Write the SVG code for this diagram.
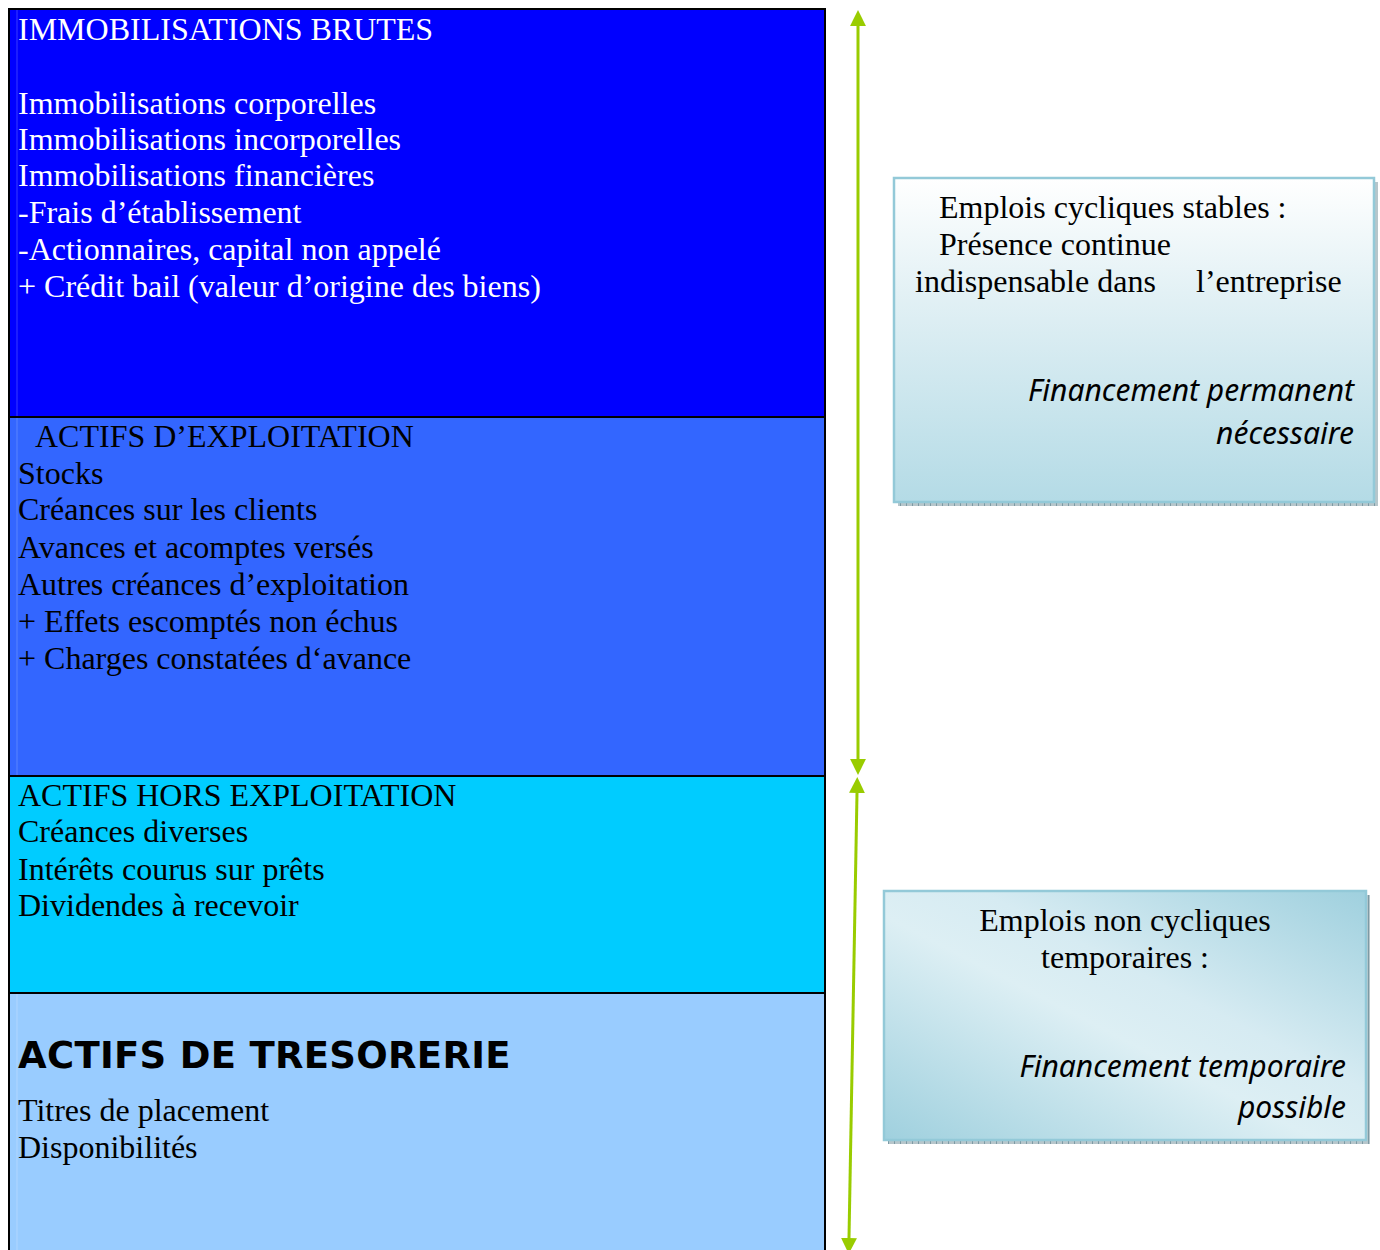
<svg xmlns="http://www.w3.org/2000/svg" width="1380" height="1250" viewBox="0 0 1380 1250">
  <defs>
    <style>
      .serif { font-family: "Liberation Serif", "Times New Roman", serif; font-size: 32px; }
      .white { fill: #ffffff; }
      .black { fill: #000000; }
      .ital { font-family: "Noto Sans", "DejaVu Sans", sans-serif; font-style: italic; font-size: 30px; fill: #000; }
      .big { font-family: "DejaVu Sans", "Liberation Sans", sans-serif; font-weight: bold; font-size: 37px; letter-spacing: 0.3px; fill: #000; }
      .arrow { stroke: #99cc00; stroke-width: 3; fill: none; }
      .note { stroke: #93c9d8; stroke-width: 2.5; }
    </style>
    <marker id="tip" viewBox="0 0 10 10" refX="0" refY="5" markerWidth="5.3" markerHeight="5.3" orient="auto-start-reverse" markerUnits="strokeWidth">
      <path d="M0,0 L10,5 L0,10 z" fill="#99cc00"/>
    </marker>
    <linearGradient id="g1" x1="0" y1="0" x2="0" y2="1">
      <stop offset="0" stop-color="#ffffff"/>
      <stop offset="0.35" stop-color="#e3f1f5"/>
      <stop offset="1" stop-color="#b4dbe6"/>
    </linearGradient>
    <linearGradient id="g2" x1="0" y1="1" x2="1" y2="0">
      <stop offset="0" stop-color="#9fd0de"/>
      <stop offset="0.45" stop-color="#ddeff4"/>
      <stop offset="0.6" stop-color="#d6ebf2"/>
      <stop offset="1" stop-color="#9fd0de"/>
    </linearGradient>
    <pattern id="hatch" width="6" height="4" patternUnits="userSpaceOnUse">
      <rect width="6" height="4" fill="#b7c6cb"/>
      <rect width="1" height="4" fill="#7d9aa4"/>
    </pattern>
  </defs>

  <!-- balance sheet column -->
  <g id="immobilisations">
    <rect x="9" y="9" width="816" height="408" fill="#0000ff" stroke="#000" stroke-width="2"/>
    <line x1="17" y1="10" x2="17" y2="416" stroke="#3b3bff" stroke-width="1"/>
    <text class="serif white" x="18" y="40">IMMOBILISATIONS BRUTES</text>
    <text class="serif white" x="18" y="114">Immobilisations corporelles</text>
    <text class="serif white" x="18" y="150">Immobilisations incorporelles</text>
    <text class="serif white" x="18" y="186">Immobilisations financières</text>
    <text class="serif white" x="18" y="223">-Frais d’établissement</text>
    <text class="serif white" x="18" y="260">-Actionnaires, capital non appelé</text>
    <text class="serif white" x="18" y="297">+ Crédit bail (valeur d’origine des biens)</text>
  </g>

  <g id="exploitation">
    <rect x="9" y="417" width="816" height="359" fill="#3366ff" stroke="#000" stroke-width="2"/>
    <line x1="17" y1="418" x2="17" y2="775" stroke="#5a84ff" stroke-width="1"/>
    <text class="serif black" x="35" y="447">ACTIFS D’EXPLOITATION</text>
    <text class="serif black" x="18" y="484">Stocks</text>
    <text class="serif black" x="18" y="520">Créances sur les clients</text>
    <text class="serif black" x="18" y="558">Avances et acomptes versés</text>
    <text class="serif black" x="18" y="595">Autres créances d’exploitation</text>
    <text class="serif black" x="18" y="632">+ Effets escomptés non échus</text>
    <text class="serif black" x="18" y="669">+ Charges constatées d‘avance</text>
  </g>

  <g id="hors-exploitation">
    <rect x="9" y="776" width="816" height="217" fill="#00ccff" stroke="#000" stroke-width="2"/>
    <text class="serif black" x="18" y="806">ACTIFS HORS EXPLOITATION</text>
    <text class="serif black" x="18" y="842">Créances diverses</text>
    <text class="serif black" x="18" y="880">Intérêts courus sur prêts</text>
    <text class="serif black" x="18" y="916">Dividendes à recevoir</text>
  </g>

  <g id="tresorerie">
    <rect x="9" y="993" width="816" height="270" fill="#99ccff" stroke="#000" stroke-width="2"/>
    <line x1="17" y1="994" x2="17" y2="1250" stroke="#b0d6ff" stroke-width="1"/>
    <text class="big" x="18" y="1068">ACTIFS DE TRESORERIE</text>
    <text class="serif black" x="18" y="1121">Titres de placement</text>
    <text class="serif black" x="18" y="1158">Disponibilités</text>
  </g>

  <!-- double-headed ranges -->
  <g id="connectors">
    <line class="arrow" x1="858" y1="26" x2="858" y2="759" marker-start="url(#tip)" marker-end="url(#tip)"/>
    <line class="arrow" x1="857" y1="793" x2="849" y2="1238" marker-start="url(#tip)" marker-end="url(#tip)"/>
  </g>

  <g id="emplois-stables">
    <rect x="898" y="182" width="480" height="324" fill="url(#hatch)"/>
    <rect class="note" x="894" y="178" width="480" height="324" fill="url(#g1)"/>
    <text class="serif black" x="939" y="218">Emplois cycliques stables :</text>
    <text class="serif black" x="939" y="255">Présence continue</text>
    <text class="serif black" x="915" y="292">indispensable dans</text>
    <text class="serif black" x="1196" y="292">l’entreprise</text>
    <text class="ital" x="1354" y="401" text-anchor="end">Financement permanent</text>
    <text class="ital" x="1354" y="444" text-anchor="end">nécessaire</text>
  </g>

  <g id="emplois-temporaires">
    <rect x="888" y="895" width="482" height="249" fill="url(#hatch)"/>
    <rect class="note" x="884" y="891" width="482" height="249" fill="url(#g2)"/>
    <text class="serif black" x="1125" y="931" text-anchor="middle">Emplois non cycliques</text>
    <text class="serif black" x="1125" y="968" text-anchor="middle">temporaires :</text>
    <text class="ital" x="1346" y="1077" text-anchor="end">Financement temporaire</text>
    <text class="ital" x="1346" y="1118" text-anchor="end">possible</text>
  </g>
</svg>
